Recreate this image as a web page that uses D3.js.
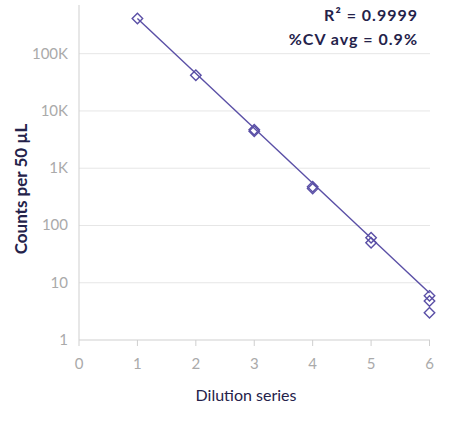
<!DOCTYPE html><html><head><meta charset="utf-8"><script src="https://cdn.jsdelivr.net/npm/d3@7"></script>
<style>body{margin:0;background:#fff}text{font-family:Lato,"Open Sans",sans-serif}</style></head><body><svg id="c" width="450" height="421"></svg>
<script>
const xs = [1,2,3,3,4,4,5,5,6,6,6];
const ys = [410000,42000,4700,4400,475,440,61,50,5.9,4.8,3.0];
const fitX = [1,6];
const fitY = [410000,6.6];
const yTicks = [1,10,100,1000,10000,100000];
const yTickLabels = ["1","10","100","1K","10K","100K"];
const xTicks = [0,1,2,3,4,5,6];
const svg = d3.select("#c");
const x = d3.scaleLinear().domain([0,6]).range([79,429.5]);
const y = d3.scaleLog().domain([1,Math.pow(10,5.85)]).range([340,5]);
const col="#5a4fa6", grid="#e6e6e6", lab="#aaaaaa";
yTicks.slice(1).forEach(t=>svg.append("line").attr("x1",79).attr("x2",430).attr("y1",y(t)).attr("y2",y(t)).attr("stroke",grid));
svg.append("line").attr("x1",79).attr("x2",79).attr("y1",5).attr("y2",340).attr("stroke","#cfcfcf");
svg.append("line").attr("x1",79).attr("x2",430).attr("y1",340).attr("y2",340).attr("stroke","#cfcfcf");
xTicks.forEach(t=>{svg.append("line").attr("x1",x(t)).attr("x2",x(t)).attr("y1",340).attr("y2",346).attr("stroke","#cfcfcf");
 svg.append("text").attr("x",x(t)).attr("y",369).attr("text-anchor","middle").attr("fill",lab).attr("font-size",15).text(t);});
yTicks.forEach((t,i)=>svg.append("text").attr("x",68).attr("y",y(t)+5).attr("text-anchor","end").attr("fill",lab).attr("font-size",15).text(yTickLabels[i]));
svg.append("line").attr("x1",x(fitX[0])).attr("y1",y(fitY[0])).attr("x2",x(fitX[1])).attr("y2",y(fitY[1])).attr("stroke",col).attr("stroke-width",1.4);
xs.forEach((v,i)=>svg.append("path").attr("d",d3.symbol(d3.symbolDiamond2,70)()).attr("transform",`translate(${x(v)},${y(ys[i])})`).attr("fill","none").attr("stroke",col).attr("stroke-width",1.4));
svg.append("text").attr("x",418).attr("y",21).attr("text-anchor","end").attr("fill","#24224a").attr("font-size",16).attr("font-weight",700).attr("letter-spacing",1).text("R² = 0.9999");
svg.append("text").attr("x",418).attr("y",45).attr("text-anchor","end").attr("fill","#24224a").attr("font-size",16).attr("font-weight",700).attr("letter-spacing",1).text("%CV avg = 0.9%");
svg.append("text").attr("x",246).attr("y",401).attr("text-anchor","middle").attr("fill","#24224a").attr("font-size",16).text("Dilution series");
svg.append("text").attr("transform","translate(27,189) rotate(-90)").attr("text-anchor","middle").attr("fill","#24224a").attr("font-size",17).attr("font-weight",700).text("Counts per 50 µL");
</script></body></html>
